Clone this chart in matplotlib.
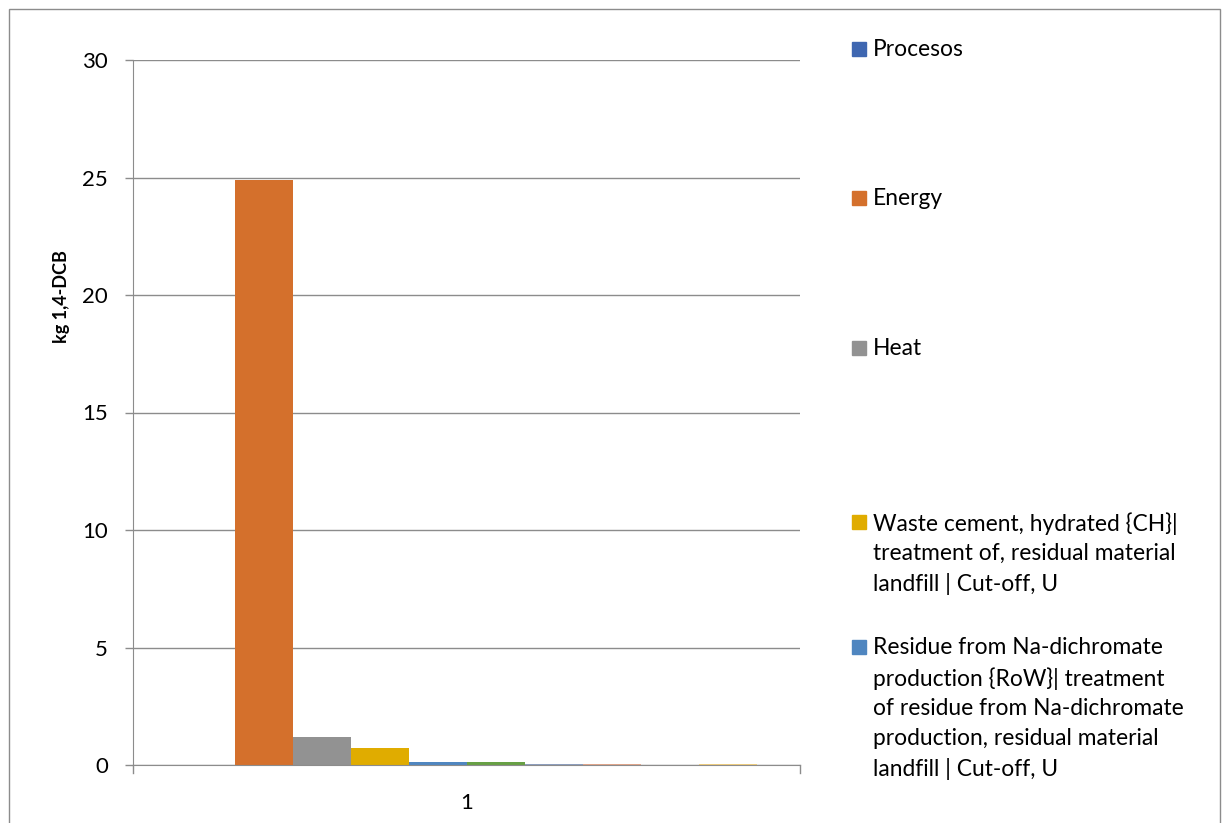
import numpy as np
import matplotlib
matplotlib.use("Agg")
import matplotlib.pyplot as plt
from matplotlib.patches import Rectangle

# Datos
series = [
    "Procesos",
    "Energy",
    "Heat",
    "Waste cement, hydrated {CH}|\ntreatment of, residual material\nlandfill | Cut-off, U",
    "Residue from Na-dichromate\nproduction {RoW}| treatment\nof residue from Na-dichromate\nproduction, residual material\nlandfill | Cut-off, U",
    "Serie 6",
    "Serie 7",
    "Serie 8",
    "Serie 9",
    "Serie 10",
]
valores = [0.0, 24.88, 1.18, 0.72, 0.12, 0.12, 0.05, 0.05, 0.0, 0.05]
colores = ["#3F67B1", "#D4702C", "#929292", "#E0AC00", "#4F86C0",
           "#67A044", "#8E9FBF", "#E3A68A", "#C9C9C9", "#F1CE7E"]
categoria = ["1"]

# Solo las primeras 5 entradas caben en la leyenda
n_leyenda = 5

W, H = 1228, 823
plt.rcParams["font.family"] = ["Lato", "DejaVu Sans"]

fig = plt.figure(figsize=(W / 100, H / 100), dpi=100)
ax = fig.add_axes([133 / W, 1 - 765 / H, (800 - 133) / W, (765 - 60) / H])

n = len(valores)
ancho = 1.0 / (n + 1.5)
x0 = -ancho * n / 2
for i, (v, c) in enumerate(zip(valores, colores)):
    ax.bar(x0 + i * ancho, v, width=ancho, align="edge", color=c)

ax.set_xlim(-0.5, 0.5)
ax.set_ylim(0, 30)
ax.set_yticks(np.arange(0, 31, 5))
ax.set_xticks([0])
ax.set_xticklabels(categoria)
ax.grid(axis="y", color="#8C8C8C", linewidth=1)
ax.set_axisbelow(True)
for s in ["top", "right"]:
    ax.spines[s].set_visible(False)
for s in ["left", "bottom"]:
    ax.spines[s].set_color("#8C8C8C")
ax.tick_params(axis="y", colors="#8C8C8C", length=6, width=1, labelsize=16,
               labelcolor="black", pad=12)
ax.tick_params(axis="x", length=0, labelsize=16, pad=20)
# marcas en los extremos del eje x
ax.plot([-0.5, -0.5], [0, -0.35], color="#8C8C8C", lw=1, clip_on=False)
ax.plot([0.5, 0.5], [0, -0.35], color="#8C8C8C", lw=1, clip_on=False)

# título del eje y (Excel lo pone algo por encima del centro)
fig.text(62 / W, 1 - 297 / H, "kg 1,4-DCB", rotation=90, ha="center",
         va="center", fontsize=13, fontweight="bold")

# leyenda manual (estilo Excel)
pos_y = [49, 198, 348, 522, 647]
for i in range(n_leyenda):
    y = pos_y[i]
    fig.patches.append(Rectangle((852 / W, 1 - (y + 7) / H), 14 / W, 14 / H,
                                 transform=fig.transFigure, color=colores[i]))
    fig.text(873 / W, 1 - (y - 10) / H, series[i], fontsize=16.4, va="top",
             ha="left", linespacing=1.5)

# marco exterior
fig.patches.append(Rectangle((9 / W, -0.05), (1220 - 9) / W, 1.05 - 9 / H,
                             transform=fig.transFigure, fill=False,
                             edgecolor="#8C8C8C", linewidth=1))

fig.savefig("out.png", dpi=100)
